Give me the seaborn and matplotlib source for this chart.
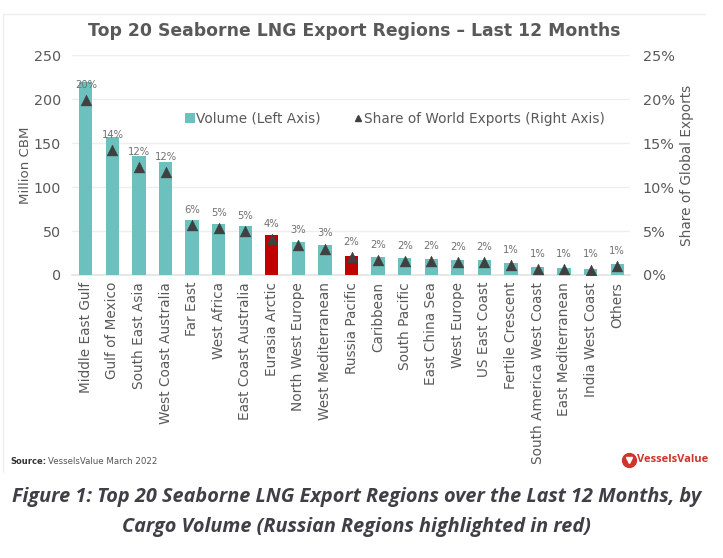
import matplotlib
matplotlib.use("Agg")
import matplotlib.pyplot as plt
from matplotlib.lines import Line2D
from matplotlib.patches import Rectangle
import seaborn as sns
import pandas as pd

regions = ["Middle East Gulf", "Gulf of Mexico", "South East Asia", "West Coast Australia", "Far East",
           "West Africa", "East Coast Australia", "Eurasia Arctic", "North West Europe", "West Mediterranean",
           "Russia Pacific", "Caribbean", "South Pacific", "East China Sea", "West Europe", "US East Coast",
           "Fertile Crescent", "South America West Coast", "East Mediterranean", "India West Coast", "Others"]
volume = [220, 157, 135, 129, 63, 58, 56, 45, 38, 34, 22, 20, 19, 18, 17, 17, 14, 9, 8.5, 7, 12]
share = [19.9, 14.2, 12.3, 11.7, 5.7, 5.3, 5.0, 4.1, 3.4, 3.0, 2.0, 1.7, 1.6, 1.6, 1.5, 1.5, 1.1, 0.7, 0.7, 0.6, 1.0]
share_labels = ["20%", "14%", "12%", "12%", "6%", "5%", "5%", "4%", "3%", "3%", "2%", "2%", "2%", "2%", "2%",
                "2%", "1%", "1%", "1%", "1%", "1%"]
russian = ["Eurasia Arctic", "Russia Pacific"]

TEAL = "#6cc1bf"
RED = "#c00000"
DARK = "#404040"
GREY = "#595959"

df = pd.DataFrame({"region": regions, "volume": volume, "share": share})
sns.set_theme(style="white")
plt.rcParams["font.family"] = ["DejaVu Sans"]

W, H = 723, 558
fig = plt.figure(figsize=(W / 100, H / 100), dpi=100, facecolor="white")
ax = fig.add_axes([72 / W, 1 - 275 / H, (630 - 72) / W, (275 - 55.5) / H])

palette = {r: (RED if r in russian else TEAL) for r in regions}
sns.barplot(data=df, x="region", y="volume", hue="region", palette=palette, dodge=False,
            legend=False, width=0.5, saturation=1, linewidth=0, ax=ax, zorder=3)
ax.set_xlim(-0.52, 20.48)
ax.set_ylim(0, 250)
ax.set_yticks(range(0, 251, 50))
ax.grid(axis="y", color="#eeeeee", lw=1, zorder=0)
ax.set_axisbelow(True)
ax.tick_params(axis="y", length=0, labelsize=10.3, labelcolor=GREY, pad=8)
ax.tick_params(axis="x", length=0, labelsize=9.8, labelcolor=GREY, pad=5)
ax.set_xticks(range(len(regions)))
ax.set_xticklabels(regions, rotation=90, ha="center", va="top")
ax.set_xlabel("")
ax.set_ylabel("Million CBM", fontsize=9.6, color=GREY)
ax.yaxis.set_label_coords((32 - 72) / (630 - 72), (275 - 165) / (275 - 55.5))
for s in ax.spines.values():
    s.set_visible(False)
ax.spines["bottom"].set_visible(True)
ax.spines["bottom"].set_color("#e4e4e4")

ax2 = ax.twinx()
sns.scatterplot(data=df, x="region", y="share", marker="^", s=62, color=DARK, edgecolor=DARK,
                linewidth=0.3, ax=ax2, zorder=5, legend=False)
ax2.set_ylim(0, 25)
ax2.set_yticks(range(0, 26, 5))
ax2.set_yticklabels([f"{v}%" for v in range(0, 26, 5)])
ax2.tick_params(axis="y", length=0, labelsize=10.4, labelcolor=GREY, pad=9)
ax2.set_ylabel("Share of Global Exports", fontsize=9.8, color=GREY)
ax2.yaxis.set_label_coords((680 - 72) / (630 - 72), (275 - 165) / (275 - 55.5))
ax2.set_xlabel("")
ax2.grid(False)
for s in ax2.spines.values():
    s.set_visible(False)

for i, (v, t) in enumerate(zip(share, share_labels)):
    ax2.annotate(t, (i, v), xytext=(0, 11), textcoords="offset points", ha="center", va="center",
                 fontsize=7.2, color="#707070", zorder=6)

fig.text(354.5 / W, 1 - 31 / H, "Top 20 Seaborne LNG Export Regions – Last 12 Months", ha="center", va="center",
         fontsize=12.4, fontweight="bold", color=GREY)

handles = [Rectangle((0, 0), 1, 1, facecolor=TEAL, edgecolor="none"),
           Line2D([], [], marker="^", color="none", markerfacecolor=DARK, markeredgecolor=DARK, markersize=5)]
fig.legend(handles, ["Volume (Left Axis)", "Share of World Exports (Right Axis)"], ncol=2, frameon=False,
           loc="center left", bbox_to_anchor=(185 / W, 1 - 119 / H), fontsize=9.8, labelcolor=GREY,
           handlelength=0.7, handleheight=0.7, handletextpad=0.1, columnspacing=2.4, borderpad=0, borderaxespad=0)

# panel border lines
fig.add_artist(Line2D([3 / W, 705 / W], [1 - 13.5 / H] * 2, color="#eeeeee", lw=1))
fig.add_artist(Line2D([3 / W, 3 / W], [1 - 13.5 / H, 1 - 472 / H], color="#eeeeee", lw=1))

fig.text(10 / W, 1 - 462 / H, "Source:", fontsize=6.0, fontweight="bold", color="#333333", ha="left", va="center")
fig.text(48 / W, 1 - 462 / H, "VesselsValue March 2022", fontsize=6.2, color="#555555", ha="left", va="center")
fig.text(637 / W, 1 - 460 / H, "VesselsValue", fontsize=8, fontweight="bold", color="#d0342c", ha="left", va="center",
         family="Open Sans")
fig.add_artist(Line2D([629 / W], [1 - 460 / H], marker="o", markersize=10, color="#d0342c", linestyle="none"))
fig.add_artist(Line2D([629 / W], [1 - 459.5 / H], marker="v", markersize=4.5, color="white", linestyle="none"))

cap = dict(ha="center", va="center", fontsize=14.3, fontweight="bold", style="italic", color="#3f3f46", family="Open Sans")
fig.text(356.5 / W, 1 - 497 / H, "Figure 1: Top 20 Seaborne LNG Export Regions over the Last 12 Months, by", **cap)
fig.text(356.5 / W, 1 - 527 / H, "Cargo Volume (Russian Regions highlighted in red)", **cap)

fig.savefig("out.png", dpi=100)
